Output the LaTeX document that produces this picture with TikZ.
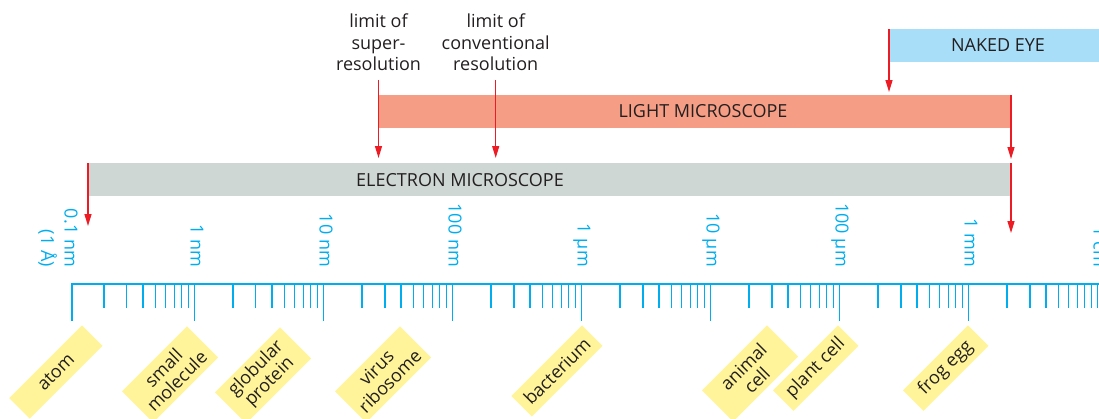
\documentclass[tikz,border=0pt]{standalone}
\usepackage{fontspec}
\setmainfont{Open Sans}
\usetikzlibrary{arrows.meta}
\definecolor{scaleblue}{RGB}{0,174,239}
\definecolor{limitred}{RGB}{237,28,36}
\definecolor{emgray}{RGB}{206,215,211}
\definecolor{lmsalmon}{RGB}{245,158,133}
\definecolor{eyeblue}{RGB}{169,222,249}
\definecolor{tagyellow}{RGB}{255,244,154}
\definecolor{inkgray}{RGB}{35,31,32}
\begin{document}
\begin{tikzpicture}[
  x=1pt, y=1pt,
  every node/.style={font=\fontsize{18}{21.5}\selectfont, text=inkgray},
  bar/.style={minimum height=33pt, inner sep=0pt, outer sep=0pt, anchor=west},
  bartext/.style={inner sep=0pt},
  limit/.style={align=center, inner xsep=0pt, inner ysep=9pt, anchor=south},
  scalelabel/.style={rotate=-90, anchor=east, inner sep=0pt, text=scaleblue, text height=0.72em, text depth=0pt},
  sizetag/.style={rotate=45, anchor=north east, fill=tagyellow, inner sep=0pt, align=center, font=\fontsize{18}{19}\selectfont},
  scaletick/.style={draw=scaleblue, line width=1.3pt},
  arrow/.style={-{Triangle[length=12pt,width=7pt]}, line width=1.3pt, draw=limitred}
]
\useasboundingbox (0,0) rectangle (1099,-418);
\clip (0,0) rectangle (1099,-418);

\node[bar, fill=eyeblue, minimum width=218pt] (eye) at (889,-45.5) {};
\node[bartext] (eyetext) at (998,-45.5) {NAKED EYE};
\node[bar, fill=lmsalmon, minimum width=633pt] (lm) at (378,-111.5) {};
\node[bartext] (lmtext) at (703,-111.5) {LIGHT MICROSCOPE};
\node[bar, fill=emgray, minimum width=923pt] (em) at (88,-179.75) {};
\node[bartext] (emtext) at (460,-180) {ELECTRON MICROSCOPE};

\node[limit] (superres) at (378.5,-80) {limit of\\super-\\resolution};
\node[limit] (convres) at (495.7,-80) {limit of\\conventional\\resolution};

\coordinate (superresend) at (378.5,-158);
\coordinate (convresend) at (495.7,-158);
\coordinate (eyeend) at (889,-92);
\coordinate (lmend) at (1011,-159);
\coordinate (emleftend) at (88,-226);
\coordinate (emrightend) at (1011,-233);

\draw[arrow] (superres) -- (superresend);
\draw[arrow] (convres) -- (convresend);
\draw[arrow] (eye.north west) -- (eyeend);
\draw[arrow] (lm.north east) -- (lmend);
\draw[arrow] (em.north west) -- (emleftend);
\draw[arrow] (em.north east) -- (emrightend);

\draw[draw=scaleblue, line width=2.5pt] (71.35,-284) -- (1099,-284);
\foreach \d in {0,...,7}
  \foreach \k in {2,...,9}
    \draw[scaletick] ({65.3+129*\d+129*log10(\k)},-284) -- ++(0,-23.5);
\foreach \d in {1,...,7}
  \draw[scaletick] ({65.3+129*\d},-284) -- ++(0,-37);
\draw[scaletick] (72,-284) -- (72,-321);
\draw[scaletick] (1097.3,-284) -- (1097.3,-307.5);

\node[scalelabel, align=right, anchor=north east, text height={}, text depth={}] (scale0) at (78,-267) {0.1 nm\\[2pt](1 Å)};
\foreach \x/\txt [count=\i] in {194.3/1 nm, 323.3/10 nm, 452.3/100 nm, 581.3/1 µm, 710.3/10 µm, 839.3/100 µm, 968.3/1 mm, 1097.3/1 cm}
  \node[scalelabel] (scale\i) at (\x,-267) {\txt};

\node[sizetag, minimum width=103pt, minimum height=29pt] (atom) at (82,-325) {atom};
\node[sizetag, minimum width=92pt, minimum height=44pt] (molecule) at (187,-326) {small\\molecule};
\node[sizetag, minimum width=92pt, minimum height=44pt] (protein) at (280,-327) {globular\\protein};
\node[sizetag, minimum width=92pt, minimum height=44pt] (virus) at (400,-326) {virus\\ribosome};
\node[sizetag, minimum width=100pt, minimum height=29pt] (bacterium) at (582,-325) {bacterium};
\node[sizetag, minimum width=92pt, minimum height=44pt] (animalcell) at (767,-325) {animal\\cell};
\node[sizetag, minimum width=92pt, minimum height=29pt] (plantcell) at (838,-325) {plant cell};
\node[sizetag, minimum width=92pt, minimum height=29pt] (frogegg) at (968,-325) {frog egg};
\end{tikzpicture}
\end{document}
